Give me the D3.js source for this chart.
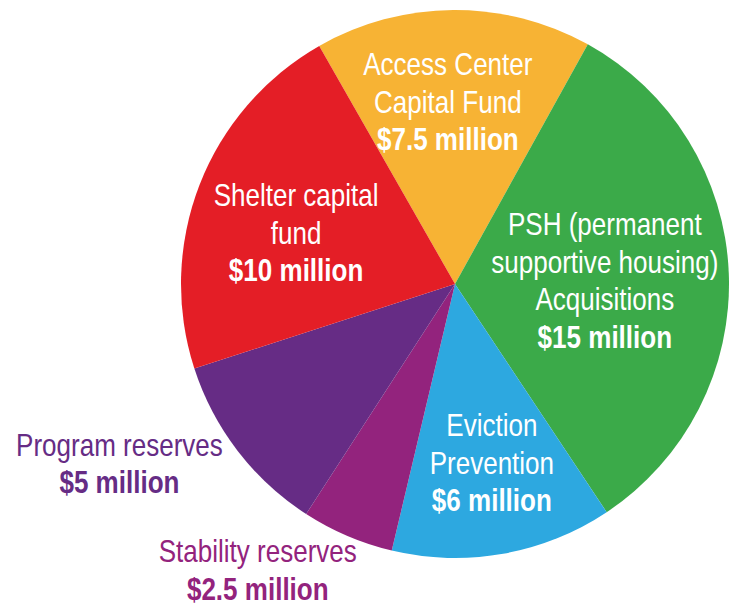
<!DOCTYPE html>
<html>
<head>
<meta charset="utf-8">
<script src="https://cdn.jsdelivr.net/npm/d3@7"></script>
<style>
  body { margin: 0; background: #fff; }
  text { font-family: "Liberation Sans", Arial, sans-serif; }
</style>
</head>
<body>
<div id="chart"></div>
<script>
// slice data, clockwise from the Access Center slice
var names = ["Access Center Capital Fund", "PSH Acquisitions", "Eviction Prevention",
             "Stability reserves", "Program reserves", "Shelter capital fund"];
var amounts = [7.5, 15, 6, 2.5, 5, 10];
var labelLines = [
  ["Access Center", "Capital Fund"],
  ["PSH (permanent", "supportive housing)", "Acquisitions"],
  ["Eviction", "Prevention"],
  ["Stability reserves"],
  ["Program reserves"],
  ["Shelter capital", "fund"]
];
var amountLabels = ["$7.5 million", "$15 million", "$6 million", "$2.5 million", "$5 million", "$10 million"];
var colors = ["#F7B334", "#3BAA49", "#2DA8E0", "#93237D", "#662C85", "#E41E26"];
var outside = [false, false, false, true, true, false];

var width = 736, height = 605;
var cx = 455, cy = 284, radius = 274;
var lineH = 37.5;
var narrow = 0.84; // squeeze to look like Arial Narrow

// where each label sits: fraction of radius and angle nudge (deg) from slice middle
var labelRadius = [0.664, 0.547, 0.667, 1.27, 1.39, 0.609];
var labelNudge = [-1.9, 1.2, -1.5, 11.4, 9.3, -3.4];

var svg = d3.select("#chart").append("svg")
  .attr("width", width)
  .attr("height", height);

var g = svg.append("g").attr("transform", "translate(" + cx + "," + cy + ")");

var startDeg = -29.7;
var pie = d3.pie()
  .sort(null)
  .value(d => d)
  .startAngle(startDeg * Math.PI / 180)
  .endAngle((startDeg + 360) * Math.PI / 180);

var arc = d3.arc().innerRadius(0).outerRadius(radius);
var arcs = pie(amounts);

g.selectAll("path.slice")
  .data(arcs)
  .enter().append("path")
  .attr("class", "slice")
  .attr("d", arc)
  .attr("fill", (d, i) => colors[i]);

// labels
arcs.forEach(function(d, i) {
  var a = (d.startAngle + d.endAngle) / 2 + labelNudge[i] * Math.PI / 180;
  var r = radius * labelRadius[i];
  var x = r * Math.sin(a), y = -r * Math.cos(a);
  var lines = labelLines[i].concat([amountLabels[i]]);
  var n = lines.length;
  var fill = outside[i] ? colors[i] : "#fff";
  var t = g.append("text")
    .attr("transform", "translate(" + x + "," + y + ") scale(" + narrow + ",1)")
    .attr("text-anchor", "middle")
    .attr("fill", fill)
    .attr("font-size", 31);
  lines.forEach(function(line, j) {
    t.append("tspan")
      .attr("x", 0)
      .attr("y", (j - (n - 1) / 2) * lineH + 10.5)
      .attr("font-weight", j === n - 1 ? "bold" : "normal")
      .text(line);
  });
});
</script>
</body>
</html>
